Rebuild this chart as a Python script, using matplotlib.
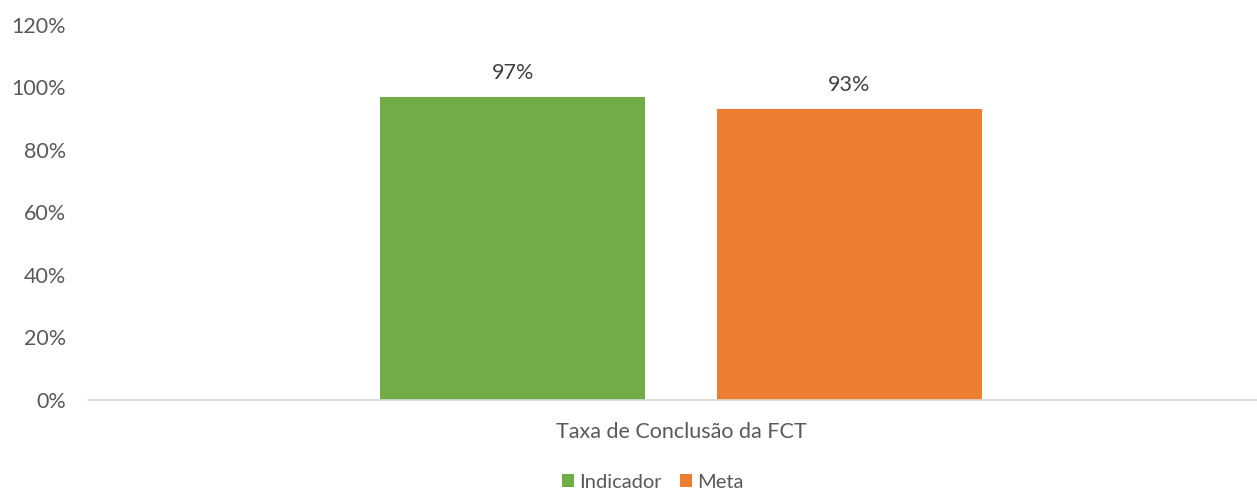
import matplotlib.pyplot as plt
from matplotlib.ticker import FuncFormatter

categories = ["Taxa de Conclusão da FCT"]
series_names = ["Indicador", "Meta"]
indicador = [97]
meta = [93]
yticks = [0, 20, 40, 60, 80, 100, 120]

GREEN = "#70ad47"
ORANGE = "#ed7d31"
TEXT = "#595959"

plt.rcParams['font.family'] = ['Lato', 'DejaVu Sans']

fig = plt.figure(figsize=(12.57, 4.91), dpi=100)
ax = fig.add_axes([0.070, 0.1853, 0.930, 0.7647])

x = list(range(len(categories)))
w = 0.7875
b1 = ax.bar([i - 0.5 for i in x], indicador, width=w, color=GREEN, label=series_names[0])
b2 = ax.bar([i + 0.5 for i in x], meta, width=w, color=ORANGE, label=series_names[1])

for bars in (b1, b2):
    for r in bars:
        ax.annotate("{:.0f}%".format(r.get_height()),
                    (r.get_x() + r.get_width() / 2, r.get_height()),
                    xytext=(0, 10), textcoords="offset points",
                    ha="center", va="bottom", fontsize=15.5, color="#404040")

ax.set_ylim(0, 120)
ax.set_xlim(-1.762, 1.712)
ax.set_yticks(yticks)
ax.yaxis.set_major_formatter(FuncFormatter(lambda v, p: "{:.0f}%".format(v)))
ax.set_xticks(x)
ax.set_xticklabels(categories)
ax.tick_params(axis="both", length=0, labelsize=15.5, colors=TEXT)
ax.tick_params(axis="x", pad=16)
ax.tick_params(axis="y", pad=16)

for s in ["top", "right", "left"]:
    ax.spines[s].set_visible(False)
ax.spines["bottom"].set_color("#d9d9d9")
ax.spines["bottom"].set_linewidth(1.2)

leg = fig.legend(loc="center", bbox_to_anchor=(653 / 1257, 1 - 482 / 491),
                 ncol=2, frameon=False, fontsize=14.5, handlelength=0.6,
                 handleheight=0.6, handletextpad=0.25, columnspacing=0.9)
for t in leg.get_texts():
    t.set_color(TEXT)

fig.savefig("out.png", dpi=100)
